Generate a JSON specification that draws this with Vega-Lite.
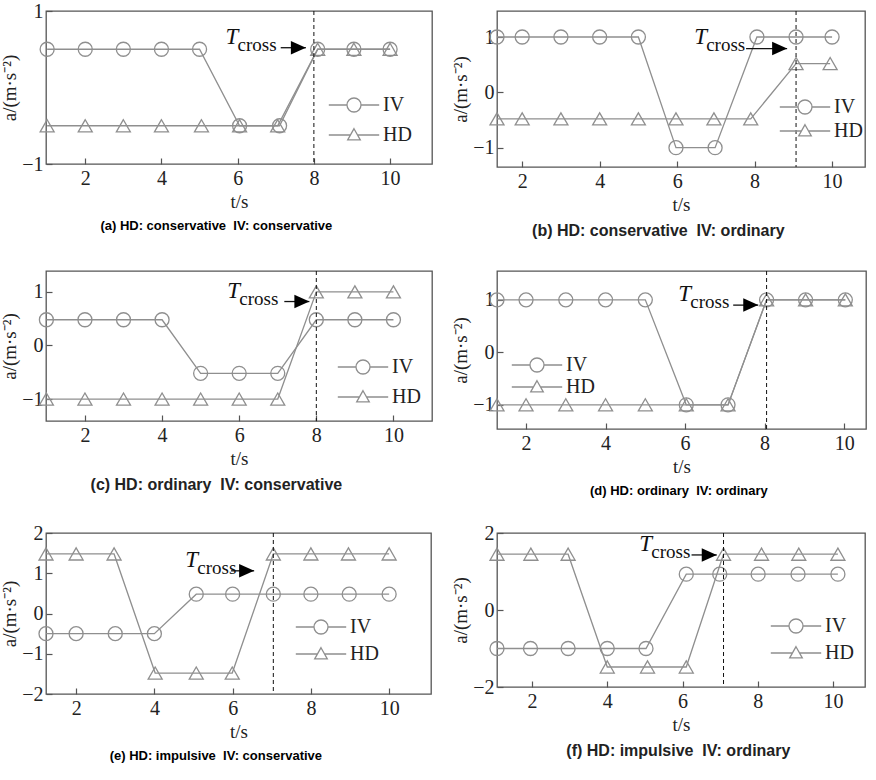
{
  "$schema": "https://vega.github.io/schema/vega-lite/v6.json",
  "padding": {"left": 0, "top": 0, "right": 0, "bottom": 0},
  "background": "white",
  "datasets": {
    "a": [
      {"t": 1, "a": 0.5, "series": "IV"}, {"t": 2, "a": 0.5, "series": "IV"}, {"t": 3, "a": 0.5, "series": "IV"}, {"t": 4, "a": 0.5, "series": "IV"}, {"t": 5, "a": 0.5, "series": "IV"},
      {"t": 6.05, "a": -0.5, "series": "IV"}, {"t": 7.1, "a": -0.5, "series": "IV"}, {"t": 8.1, "a": 0.5, "series": "IV"}, {"t": 9.05, "a": 0.5, "series": "IV"}, {"t": 10, "a": 0.5, "series": "IV"},
      {"t": 1, "a": -0.5, "series": "HD"}, {"t": 2, "a": -0.5, "series": "HD"}, {"t": 3, "a": -0.5, "series": "HD"}, {"t": 4, "a": -0.5, "series": "HD"}, {"t": 5.05, "a": -0.5, "series": "HD"},
      {"t": 6.05, "a": -0.5, "series": "HD"}, {"t": 7.05, "a": -0.5, "series": "HD"}, {"t": 8.1, "a": 0.5, "series": "HD"}, {"t": 9.05, "a": 0.5, "series": "HD"}, {"t": 10, "a": 0.5, "series": "HD"}
    ],
    "a_ann": [{"tc": 8, "tx": 5.68, "ax1": 7.13, "ax2": 7.79, "ay": 0.52}],
    "b": [
      {"t": 1.35, "a": 1, "series": "IV"}, {"t": 2, "a": 1, "series": "IV"}, {"t": 3, "a": 1, "series": "IV"}, {"t": 4, "a": 1, "series": "IV"}, {"t": 5, "a": 1, "series": "IV"},
      {"t": 5.97, "a": -1, "series": "IV"}, {"t": 6.98, "a": -1, "series": "IV"}, {"t": 8.06, "a": 1, "series": "IV"}, {"t": 9.07, "a": 1, "series": "IV"}, {"t": 10, "a": 1, "series": "IV"},
      {"t": 1.35, "a": -0.48, "series": "HD"}, {"t": 2, "a": -0.48, "series": "HD"}, {"t": 3, "a": -0.48, "series": "HD"}, {"t": 4, "a": -0.48, "series": "HD"}, {"t": 5, "a": -0.48, "series": "HD"},
      {"t": 5.97, "a": -0.48, "series": "HD"}, {"t": 6.95, "a": -0.48, "series": "HD"}, {"t": 7.9, "a": -0.48, "series": "HD"}, {"t": 9.07, "a": 0.52, "series": "HD"}, {"t": 9.95, "a": 0.52, "series": "HD"}
    ],
    "b_ann": [{"tc": 9.07, "tx": 6.44, "ax1": 7.78, "ax2": 8.84, "ay": 0.79}],
    "c": [
      {"t": 1, "a": 0.48, "series": "IV"}, {"t": 2, "a": 0.48, "series": "IV"}, {"t": 3, "a": 0.48, "series": "IV"}, {"t": 4, "a": 0.48, "series": "IV"}, {"t": 5, "a": -0.52, "series": "IV"},
      {"t": 6, "a": -0.52, "series": "IV"}, {"t": 7, "a": -0.52, "series": "IV"}, {"t": 8, "a": 0.48, "series": "IV"}, {"t": 9, "a": 0.48, "series": "IV"}, {"t": 10, "a": 0.48, "series": "IV"},
      {"t": 1, "a": -1, "series": "HD"}, {"t": 2, "a": -1, "series": "HD"}, {"t": 3, "a": -1, "series": "HD"}, {"t": 4, "a": -1, "series": "HD"}, {"t": 5, "a": -1, "series": "HD"},
      {"t": 6, "a": -1, "series": "HD"}, {"t": 7, "a": -1, "series": "HD"}, {"t": 8, "a": 1, "series": "HD"}, {"t": 9, "a": 1, "series": "HD"}, {"t": 10, "a": 1, "series": "HD"}
    ],
    "c_ann": [{"tc": 8, "tx": 5.69, "ax1": 7.17, "ax2": 7.82, "ay": 0.82}],
    "d": [
      {"t": 1.27, "a": 1, "series": "IV"}, {"t": 2, "a": 1, "series": "IV"}, {"t": 3, "a": 1, "series": "IV"}, {"t": 4, "a": 1, "series": "IV"}, {"t": 5, "a": 1, "series": "IV"},
      {"t": 6.03, "a": -1, "series": "IV"}, {"t": 7.08, "a": -1, "series": "IV"}, {"t": 8.05, "a": 1, "series": "IV"}, {"t": 9.03, "a": 1, "series": "IV"}, {"t": 10.03, "a": 1, "series": "IV"},
      {"t": 1.27, "a": -1, "series": "HD"}, {"t": 2, "a": -1, "series": "HD"}, {"t": 3, "a": -1, "series": "HD"}, {"t": 4, "a": -1, "series": "HD"}, {"t": 5, "a": -1, "series": "HD"},
      {"t": 6.03, "a": -1, "series": "HD"}, {"t": 7.08, "a": -1, "series": "HD"}, {"t": 8.05, "a": 1, "series": "HD"}, {"t": 9.03, "a": 1, "series": "HD"}, {"t": 10.03, "a": 1, "series": "HD"}
    ],
    "d_ann": [{"tc": 8.05, "tx": 5.83, "ax1": 7.21, "ax2": 7.84, "ay": 0.9}],
    "e": [
      {"t": 1.23, "a": -0.5, "series": "IV"}, {"t": 2, "a": -0.5, "series": "IV"}, {"t": 3, "a": -0.5, "series": "IV"}, {"t": 4, "a": -0.5, "series": "IV"}, {"t": 5.07, "a": 0.48, "series": "IV"},
      {"t": 6, "a": 0.48, "series": "IV"}, {"t": 7.04, "a": 0.48, "series": "IV"}, {"t": 8, "a": 0.48, "series": "IV"}, {"t": 8.98, "a": 0.48, "series": "IV"}, {"t": 10, "a": 0.48, "series": "IV"},
      {"t": 1.23, "a": 1.48, "series": "HD"}, {"t": 2, "a": 1.48, "series": "HD"}, {"t": 2.97, "a": 1.48, "series": "HD"}, {"t": 4.02, "a": -1.48, "series": "HD"}, {"t": 5.07, "a": -1.48, "series": "HD"},
      {"t": 5.99, "a": -1.48, "series": "HD"}, {"t": 7.04, "a": 1.48, "series": "HD"}, {"t": 8, "a": 1.48, "series": "HD"}, {"t": 8.96, "a": 1.48, "series": "HD"}, {"t": 10, "a": 1.48, "series": "HD"}
    ],
    "e_ann": [{"tc": 7.04, "tx": 4.79, "ax1": 5.96, "ax2": 6.55, "ay": 1.06}],
    "f": [
      {"t": 1.07, "a": -1, "series": "IV"}, {"t": 1.96, "a": -1, "series": "IV"}, {"t": 2.96, "a": -1, "series": "IV"}, {"t": 4, "a": -1, "series": "IV"}, {"t": 5.03, "a": -1, "series": "IV"},
      {"t": 6.1, "a": 0.93, "series": "IV"}, {"t": 6.99, "a": 0.93, "series": "IV"}, {"t": 8.01, "a": 0.93, "series": "IV"}, {"t": 9.07, "a": 0.93, "series": "IV"}, {"t": 10.13, "a": 0.93, "series": "IV"},
      {"t": 1.07, "a": 1.45, "series": "HD"}, {"t": 1.97, "a": 1.45, "series": "HD"}, {"t": 2.96, "a": 1.45, "series": "HD"}, {"t": 4, "a": -1.48, "series": "HD"}, {"t": 5.07, "a": -1.48, "series": "HD"},
      {"t": 6.1, "a": -1.48, "series": "HD"}, {"t": 7.09, "a": 1.45, "series": "HD"}, {"t": 8.1, "a": 1.45, "series": "HD"}, {"t": 9.09, "a": 1.45, "series": "HD"}, {"t": 10.13, "a": 1.45, "series": "HD"}
    ],
    "f_ann": [{"tc": 7.09, "tx": 4.85, "ax1": 6.24, "ax2": 6.91, "ay": 1.43}]
  },
  "columns": 2,
  "concat": [
    {
      "width": 386, "height": 153,
      "title": {"text": "(a) HD: conservative\u00a0 IV: conservative", "orient": "bottom", "anchor": "middle", "frame": "bounds", "offset": 9},
      "layer": [
        {"data": {"name": "a"}, "mark": {"type": "line", "color": "#8f8f8f", "strokeWidth": 1.3},
         "encoding": {
           "x": {"field": "t", "type": "quantitative", "scale": {"domain": [0.97, 11.1], "nice": false, "zero": false}, "axis": {"values": [2, 4, 6, 8, 10], "title": "t/s", "labelFont": "Liberation Serif", "labelFontSize": 20, "labelColor": "#222", "titleFont": "Liberation Serif", "titleFontSize": 19, "titleFontWeight": "normal", "titleColor": "#222", "titlePadding": 4, "labelPadding": 4}},
           "y": {"field": "a", "type": "quantitative", "scale": {"domain": [-1, 1], "nice": false, "zero": false}, "axis": {"values": [-1, 0, 1], "format": "d", "title": "a/(m·s⁻²)", "labelFont": "Liberation Serif", "labelFontSize": 20, "labelColor": "#222", "titleFont": "Liberation Serif", "titleFontSize": 19, "titleFontWeight": "normal", "titleColor": "#222", "titlePadding": 2, "labelPadding": 3}},
           "detail": {"field": "series"}}},
        {"data": {"name": "a"}, "transform": [{"filter": "datum.series === 'IV'"}], "mark": {"type": "point", "shape": "circle", "filled": false, "color": "#8f8f8f", "strokeWidth": 1.3, "size": 196, "opacity": 1},
         "encoding": {
           "x": {"field": "t", "type": "quantitative", "scale": {"domain": [0.97, 11.1], "nice": false, "zero": false}},
           "y": {"field": "a", "type": "quantitative", "scale": {"domain": [-1, 1], "nice": false, "zero": false}}}},
        {"data": {"name": "a"}, "transform": [{"filter": "datum.series === 'HD'"}], "mark": {"type": "point", "shape": "triangle-up", "filled": false, "color": "#8f8f8f", "strokeWidth": 1.3, "size": 196, "opacity": 1},
         "encoding": {
           "x": {"field": "t", "type": "quantitative", "scale": {"domain": [0.97, 11.1], "nice": false, "zero": false}},
           "y": {"field": "a", "type": "quantitative", "scale": {"domain": [-1, 1], "nice": false, "zero": false}}}},
        {"data": {"name": "a"}, "transform": [{"filter": "false"}], "mark": {"type": "point", "filled": false, "color": "#8f8f8f", "strokeWidth": 1.3, "size": 196, "opacity": 1},
         "encoding": {
           "shape": {"field": "series", "type": "nominal", "scale": {"domain": ["IV", "HD"], "range": ["M-3.6,0H-1M1,0H3.6M1,0A1,1,0,1,1,-1,0A1,1,0,1,1,1,0", "M-3.6,0H-0.5M0.5,0H3.6M0,-0.9L0.9,0.7L-0.9,0.7Z"]},
             "legend": {"title": null, "orient": "none", "legendX": 298, "legendY": 84, "rowPadding": 10}}}},
        {"data": {"name": "a_ann"}, "mark": {"type": "rule", "color": "#111", "strokeWidth": 1, "strokeDash": [4, 3]},
         "encoding": {"x": {"field": "tc", "type": "quantitative", "scale": {"domain": [0.97, 11.1], "nice": false, "zero": false}}}},
        {"data": {"name": "a_ann"}, "mark": {"type": "rule", "color": "#111", "strokeWidth": 1.3},
         "encoding": {
           "x": {"field": "ax1", "type": "quantitative", "scale": {"domain": [0.97, 11.1], "nice": false, "zero": false}},
           "x2": {"field": "ax2"},
           "y": {"field": "ay", "type": "quantitative", "scale": {"domain": [-1, 1], "nice": false, "zero": false}}}},
        {"data": {"name": "a_ann"}, "mark": {"type": "point", "filled": true, "color": "#000", "opacity": 1, "shape": "M0,0L-1,-0.45L-1,0.45Z", "size": 900},
         "encoding": {
           "x": {"field": "ax2", "type": "quantitative", "scale": {"domain": [0.97, 11.1], "nice": false, "zero": false}},
           "y": {"field": "ay", "type": "quantitative", "scale": {"domain": [-1, 1], "nice": false, "zero": false}}}},
        {"data": {"name": "a_ann"}, "mark": {"type": "text", "text": "T", "font": "Liberation Serif", "fontStyle": "italic", "fontSize": 23, "align": "left", "baseline": "alphabetic", "dy": -4, "color": "#111"},
         "encoding": {
           "x": {"field": "tx", "type": "quantitative", "scale": {"domain": [0.97, 11.1], "nice": false, "zero": false}},
           "y": {"field": "ay", "type": "quantitative", "scale": {"domain": [-1, 1], "nice": false, "zero": false}}}},
        {"data": {"name": "a_ann"}, "mark": {"type": "text", "text": "cross", "font": "Liberation Serif", "fontSize": 19, "align": "left", "baseline": "alphabetic", "dx": 12, "dy": 3, "color": "#111"},
         "encoding": {
           "x": {"field": "tx", "type": "quantitative", "scale": {"domain": [0.97, 11.1], "nice": false, "zero": false}},
           "y": {"field": "ay", "type": "quantitative", "scale": {"domain": [-1, 1], "nice": false, "zero": false}}}}
      ]
    },
    {
      "width": 368, "height": 156,
      "title": {"text": "(b) HD: conservative\u00a0 IV: ordinary", "style": "caption", "orient": "bottom", "anchor": "middle", "frame": "bounds", "offset": 9},
      "layer": [
        {"data": {"name": "b"}, "mark": {"type": "line", "color": "#8f8f8f", "strokeWidth": 1.3},
         "encoding": {
           "x": {"field": "t", "type": "quantitative", "scale": {"domain": [1.35, 10.85], "nice": false, "zero": false}, "axis": {"values": [2, 4, 6, 8, 10], "title": "t/s", "labelFont": "Liberation Serif", "labelFontSize": 20, "labelColor": "#222", "titleFont": "Liberation Serif", "titleFontSize": 19, "titleFontWeight": "normal", "titleColor": "#222", "titlePadding": 4, "labelPadding": 4}},
           "y": {"field": "a", "type": "quantitative", "scale": {"domain": [-1.35, 1.47], "nice": false, "zero": false}, "axis": {"values": [-1, 0, 1], "format": "d", "title": "a/(m·s⁻²)", "labelFont": "Liberation Serif", "labelFontSize": 20, "labelColor": "#222", "titleFont": "Liberation Serif", "titleFontSize": 19, "titleFontWeight": "normal", "titleColor": "#222", "titlePadding": 2, "labelPadding": 3}},
           "detail": {"field": "series"}}},
        {"data": {"name": "b"}, "transform": [{"filter": "datum.series === 'IV'"}], "mark": {"type": "point", "shape": "circle", "filled": false, "color": "#8f8f8f", "strokeWidth": 1.3, "size": 196, "opacity": 1},
         "encoding": {
           "x": {"field": "t", "type": "quantitative", "scale": {"domain": [1.35, 10.85], "nice": false, "zero": false}},
           "y": {"field": "a", "type": "quantitative", "scale": {"domain": [-1.35, 1.47], "nice": false, "zero": false}}}},
        {"data": {"name": "b"}, "transform": [{"filter": "datum.series === 'HD'"}], "mark": {"type": "point", "shape": "triangle-up", "filled": false, "color": "#8f8f8f", "strokeWidth": 1.3, "size": 196, "opacity": 1},
         "encoding": {
           "x": {"field": "t", "type": "quantitative", "scale": {"domain": [1.35, 10.85], "nice": false, "zero": false}},
           "y": {"field": "a", "type": "quantitative", "scale": {"domain": [-1.35, 1.47], "nice": false, "zero": false}}}},
        {"data": {"name": "b"}, "transform": [{"filter": "false"}], "mark": {"type": "point", "filled": false, "color": "#8f8f8f", "strokeWidth": 1.3, "size": 196, "opacity": 1},
         "encoding": {
           "shape": {"field": "series", "type": "nominal", "scale": {"domain": ["IV", "HD"], "range": ["M-3.6,0H-1M1,0H3.6M1,0A1,1,0,1,1,-1,0A1,1,0,1,1,1,0", "M-3.6,0H-0.5M0.5,0H3.6M0,-0.9L0.9,0.7L-0.9,0.7Z"]},
             "legend": {"title": null, "orient": "none", "legendX": 298, "legendY": 86, "rowPadding": 4}}}},
        {"data": {"name": "b_ann"}, "mark": {"type": "rule", "color": "#111", "strokeWidth": 1, "strokeDash": [4, 3]},
         "encoding": {"x": {"field": "tc", "type": "quantitative", "scale": {"domain": [1.35, 10.85], "nice": false, "zero": false}}}},
        {"data": {"name": "b_ann"}, "mark": {"type": "rule", "color": "#111", "strokeWidth": 1.3},
         "encoding": {
           "x": {"field": "ax1", "type": "quantitative", "scale": {"domain": [1.35, 10.85], "nice": false, "zero": false}},
           "x2": {"field": "ax2"},
           "y": {"field": "ay", "type": "quantitative", "scale": {"domain": [-1.35, 1.47], "nice": false, "zero": false}}}},
        {"data": {"name": "b_ann"}, "mark": {"type": "point", "filled": true, "color": "#000", "opacity": 1, "shape": "M0,0L-1,-0.45L-1,0.45Z", "size": 900},
         "encoding": {
           "x": {"field": "ax2", "type": "quantitative", "scale": {"domain": [1.35, 10.85], "nice": false, "zero": false}},
           "y": {"field": "ay", "type": "quantitative", "scale": {"domain": [-1.35, 1.47], "nice": false, "zero": false}}}},
        {"data": {"name": "b_ann"}, "mark": {"type": "text", "text": "T", "font": "Liberation Serif", "fontStyle": "italic", "fontSize": 23, "align": "left", "baseline": "alphabetic", "dy": -5, "color": "#111"},
         "encoding": {
           "x": {"field": "tx", "type": "quantitative", "scale": {"domain": [1.35, 10.85], "nice": false, "zero": false}},
           "y": {"field": "ay", "type": "quantitative", "scale": {"domain": [-1.35, 1.47], "nice": false, "zero": false}}}},
        {"data": {"name": "b_ann"}, "mark": {"type": "text", "text": "cross", "font": "Liberation Serif", "fontSize": 19, "align": "left", "baseline": "alphabetic", "dx": 12, "dy": 2, "color": "#111"},
         "encoding": {
           "x": {"field": "tx", "type": "quantitative", "scale": {"domain": [1.35, 10.85], "nice": false, "zero": false}},
           "y": {"field": "ay", "type": "quantitative", "scale": {"domain": [-1.35, 1.47], "nice": false, "zero": false}}}}
      ]
    },
    {
      "width": 386, "height": 150,
      "title": {"text": "(c) HD: ordinary\u00a0 IV: conservative", "style": "caption", "orient": "bottom", "anchor": "middle", "frame": "bounds", "offset": 9},
      "layer": [
        {"data": {"name": "c"}, "mark": {"type": "line", "color": "#8f8f8f", "strokeWidth": 1.3},
         "encoding": {
           "x": {"field": "t", "type": "quantitative", "scale": {"domain": [0.99, 11.0], "nice": false, "zero": false}, "axis": {"values": [2, 4, 6, 8, 10], "title": "t/s", "labelFont": "Liberation Serif", "labelFontSize": 20, "labelColor": "#222", "titleFont": "Liberation Serif", "titleFontSize": 19, "titleFontWeight": "normal", "titleColor": "#222", "titlePadding": 4, "labelPadding": 4}},
           "y": {"field": "a", "type": "quantitative", "scale": {"domain": [-1.41, 1.39], "nice": false, "zero": false}, "axis": {"values": [-1, 0, 1], "format": "d", "title": "a/(m·s⁻²)", "labelFont": "Liberation Serif", "labelFontSize": 20, "labelColor": "#222", "titleFont": "Liberation Serif", "titleFontSize": 19, "titleFontWeight": "normal", "titleColor": "#222", "titlePadding": 2, "labelPadding": 3}},
           "detail": {"field": "series"}}},
        {"data": {"name": "c"}, "transform": [{"filter": "datum.series === 'IV'"}], "mark": {"type": "point", "shape": "circle", "filled": false, "color": "#8f8f8f", "strokeWidth": 1.3, "size": 196, "opacity": 1},
         "encoding": {
           "x": {"field": "t", "type": "quantitative", "scale": {"domain": [0.99, 11.0], "nice": false, "zero": false}, "axis": {"values": [2, 4, 6, 8, 10], "title": "t/s", "labelFont": "Liberation Serif", "labelFontSize": 20, "labelColor": "#222", "titleFont": "Liberation Serif", "titleFontSize": 19, "titleFontWeight": "normal", "titleColor": "#222", "titlePadding": 4, "labelPadding": 4}},
           "y": {"field": "a", "type": "quantitative", "scale": {"domain": [-1.41, 1.39], "nice": false, "zero": false}, "axis": {"values": [-1, 0, 1], "format": "d", "title": "a/(m·s⁻²)", "labelFont": "Liberation Serif", "labelFontSize": 20, "labelColor": "#222", "titleFont": "Liberation Serif", "titleFontSize": 19, "titleFontWeight": "normal", "titleColor": "#222", "titlePadding": 2, "labelPadding": 3}}}},
        {"data": {"name": "c"}, "transform": [{"filter": "datum.series === 'HD'"}], "mark": {"type": "point", "shape": "triangle-up", "filled": false, "color": "#8f8f8f", "strokeWidth": 1.3, "size": 196, "opacity": 1},
         "encoding": {
           "x": {"field": "t", "type": "quantitative", "scale": {"domain": [0.99, 11.0], "nice": false, "zero": false}, "axis": {"values": [2, 4, 6, 8, 10], "title": "t/s", "labelFont": "Liberation Serif", "labelFontSize": 20, "labelColor": "#222", "titleFont": "Liberation Serif", "titleFontSize": 19, "titleFontWeight": "normal", "titleColor": "#222", "titlePadding": 4, "labelPadding": 4}},
           "y": {"field": "a", "type": "quantitative", "scale": {"domain": [-1.41, 1.39], "nice": false, "zero": false}, "axis": {"values": [-1, 0, 1], "format": "d", "title": "a/(m·s⁻²)", "labelFont": "Liberation Serif", "labelFontSize": 20, "labelColor": "#222", "titleFont": "Liberation Serif", "titleFontSize": 19, "titleFontWeight": "normal", "titleColor": "#222", "titlePadding": 2, "labelPadding": 3}}}},
        {"data": {"name": "c"}, "transform": [{"filter": "false"}], "mark": {"type": "point", "filled": false, "color": "#8f8f8f", "strokeWidth": 1.3, "size": 196, "opacity": 1},
         "encoding": {
           "shape": {"field": "series", "type": "nominal", "scale": {"domain": ["IV", "HD"], "range": ["M-3.6,0H-1M1,0H3.6M1,0A1,1,0,1,1,-1,0A1,1,0,1,1,1,0", "M-3.6,0H-0.5M0.5,0H3.6M0,-0.9L0.9,0.7L-0.9,0.7Z"]},
             "legend": {"title": null, "orient": "none", "legendX": 307, "legendY": 86, "rowPadding": 10}}}},
        {"data": {"name": "c_ann"}, "mark": {"type": "rule", "color": "#111", "strokeWidth": 1, "strokeDash": [4, 3]},
         "encoding": {"x": {"field": "tc", "type": "quantitative", "scale": {"domain": [0.99, 11.0], "nice": false, "zero": false}, "axis": {"values": [2, 4, 6, 8, 10], "title": "t/s", "labelFont": "Liberation Serif", "labelFontSize": 20, "labelColor": "#222", "titleFont": "Liberation Serif", "titleFontSize": 19, "titleFontWeight": "normal", "titleColor": "#222", "titlePadding": 4, "labelPadding": 4}}}},
        {"data": {"name": "c_ann"}, "mark": {"type": "rule", "color": "#111", "strokeWidth": 1.3},
         "encoding": {
           "x": {"field": "ax1", "type": "quantitative", "scale": {"domain": [0.99, 11.0], "nice": false, "zero": false}, "axis": {"values": [2, 4, 6, 8, 10], "title": "t/s", "labelFont": "Liberation Serif", "labelFontSize": 20, "labelColor": "#222", "titleFont": "Liberation Serif", "titleFontSize": 19, "titleFontWeight": "normal", "titleColor": "#222", "titlePadding": 4, "labelPadding": 4}},
           "x2": {"field": "ax2"},
           "y": {"field": "ay", "type": "quantitative", "scale": {"domain": [-1.41, 1.39], "nice": false, "zero": false}, "axis": {"values": [-1, 0, 1], "format": "d", "title": "a/(m·s⁻²)", "labelFont": "Liberation Serif", "labelFontSize": 20, "labelColor": "#222", "titleFont": "Liberation Serif", "titleFontSize": 19, "titleFontWeight": "normal", "titleColor": "#222", "titlePadding": 2, "labelPadding": 3}}}},
        {"data": {"name": "c_ann"}, "mark": {"type": "point", "filled": true, "color": "#000", "opacity": 1, "shape": "M0,0L-1,-0.45L-1,0.45Z", "size": 900},
         "encoding": {
           "x": {"field": "ax2", "type": "quantitative", "scale": {"domain": [0.99, 11.0], "nice": false, "zero": false}, "axis": {"values": [2, 4, 6, 8, 10], "title": "t/s", "labelFont": "Liberation Serif", "labelFontSize": 20, "labelColor": "#222", "titleFont": "Liberation Serif", "titleFontSize": 19, "titleFontWeight": "normal", "titleColor": "#222", "titlePadding": 4, "labelPadding": 4}},
           "y": {"field": "ay", "type": "quantitative", "scale": {"domain": [-1.41, 1.39], "nice": false, "zero": false}, "axis": {"values": [-1, 0, 1], "format": "d", "title": "a/(m·s⁻²)", "labelFont": "Liberation Serif", "labelFontSize": 20, "labelColor": "#222", "titleFont": "Liberation Serif", "titleFontSize": 19, "titleFontWeight": "normal", "titleColor": "#222", "titlePadding": 2, "labelPadding": 3}}}},
        {"data": {"name": "c_ann"}, "mark": {"type": "text", "text": "T", "font": "Liberation Serif", "fontStyle": "italic", "fontSize": 23, "align": "left", "baseline": "alphabetic", "dy": -4, "color": "#111"},
         "encoding": {
           "x": {"field": "tx", "type": "quantitative", "scale": {"domain": [0.99, 11.0], "nice": false, "zero": false}, "axis": {"values": [2, 4, 6, 8, 10], "title": "t/s", "labelFont": "Liberation Serif", "labelFontSize": 20, "labelColor": "#222", "titleFont": "Liberation Serif", "titleFontSize": 19, "titleFontWeight": "normal", "titleColor": "#222", "titlePadding": 4, "labelPadding": 4}},
           "y": {"field": "ay", "type": "quantitative", "scale": {"domain": [-1.41, 1.39], "nice": false, "zero": false}, "axis": {"values": [-1, 0, 1], "format": "d", "title": "a/(m·s⁻²)", "labelFont": "Liberation Serif", "labelFontSize": 20, "labelColor": "#222", "titleFont": "Liberation Serif", "titleFontSize": 19, "titleFontWeight": "normal", "titleColor": "#222", "titlePadding": 2, "labelPadding": 3}}}},
        {"data": {"name": "c_ann"}, "mark": {"type": "text", "text": "cross", "font": "Liberation Serif", "fontSize": 19, "align": "left", "baseline": "alphabetic", "dx": 12, "dy": 3, "color": "#111"},
         "encoding": {
           "x": {"field": "tx", "type": "quantitative", "scale": {"domain": [0.99, 11.0], "nice": false, "zero": false}, "axis": {"values": [2, 4, 6, 8, 10], "title": "t/s", "labelFont": "Liberation Serif", "labelFontSize": 20, "labelColor": "#222", "titleFont": "Liberation Serif", "titleFontSize": 19, "titleFontWeight": "normal", "titleColor": "#222", "titlePadding": 4, "labelPadding": 4}},
           "y": {"field": "ay", "type": "quantitative", "scale": {"domain": [-1.41, 1.39], "nice": false, "zero": false}, "axis": {"values": [-1, 0, 1], "format": "d", "title": "a/(m·s⁻²)", "labelFont": "Liberation Serif", "labelFontSize": 20, "labelColor": "#222", "titleFont": "Liberation Serif", "titleFontSize": 19, "titleFontWeight": "normal", "titleColor": "#222", "titlePadding": 2, "labelPadding": 3}}}}
      ]
    },
    {
      "width": 369, "height": 158,
      "title": {"text": "(d) HD: ordinary\u00a0 IV: ordinary", "dx": 20, "orient": "bottom", "anchor": "middle", "frame": "bounds", "offset": 9},
      "layer": [
        {"data": {"name": "d"}, "mark": {"type": "line", "color": "#8f8f8f", "strokeWidth": 1.3},
         "encoding": {
           "x": {"field": "t", "type": "quantitative", "scale": {"domain": [1.27, 10.55], "nice": false, "zero": false}, "axis": {"values": [2, 4, 6, 8, 10], "title": "t/s", "labelFont": "Liberation Serif", "labelFontSize": 20, "labelColor": "#222", "titleFont": "Liberation Serif", "titleFontSize": 19, "titleFontWeight": "normal", "titleColor": "#222", "titlePadding": 4, "labelPadding": 4}},
           "y": {"field": "a", "type": "quantitative", "scale": {"domain": [-1.46, 1.55], "nice": false, "zero": false}, "axis": {"values": [-1, 0, 1], "format": "d", "title": "a/(m·s⁻²)", "labelFont": "Liberation Serif", "labelFontSize": 20, "labelColor": "#222", "titleFont": "Liberation Serif", "titleFontSize": 19, "titleFontWeight": "normal", "titleColor": "#222", "titlePadding": 2, "labelPadding": 3}},
           "detail": {"field": "series"}}},
        {"data": {"name": "d"}, "transform": [{"filter": "datum.series === 'IV'"}], "mark": {"type": "point", "shape": "circle", "filled": false, "color": "#8f8f8f", "strokeWidth": 1.3, "size": 196, "opacity": 1},
         "encoding": {
           "x": {"field": "t", "type": "quantitative", "scale": {"domain": [1.27, 10.55], "nice": false, "zero": false}, "axis": {"values": [2, 4, 6, 8, 10], "title": "t/s", "labelFont": "Liberation Serif", "labelFontSize": 20, "labelColor": "#222", "titleFont": "Liberation Serif", "titleFontSize": 19, "titleFontWeight": "normal", "titleColor": "#222", "titlePadding": 4, "labelPadding": 4}},
           "y": {"field": "a", "type": "quantitative", "scale": {"domain": [-1.46, 1.55], "nice": false, "zero": false}, "axis": {"values": [-1, 0, 1], "format": "d", "title": "a/(m·s⁻²)", "labelFont": "Liberation Serif", "labelFontSize": 20, "labelColor": "#222", "titleFont": "Liberation Serif", "titleFontSize": 19, "titleFontWeight": "normal", "titleColor": "#222", "titlePadding": 2, "labelPadding": 3}}}},
        {"data": {"name": "d"}, "transform": [{"filter": "datum.series === 'HD'"}], "mark": {"type": "point", "shape": "triangle-up", "filled": false, "color": "#8f8f8f", "strokeWidth": 1.3, "size": 196, "opacity": 1},
         "encoding": {
           "x": {"field": "t", "type": "quantitative", "scale": {"domain": [1.27, 10.55], "nice": false, "zero": false}, "axis": {"values": [2, 4, 6, 8, 10], "title": "t/s", "labelFont": "Liberation Serif", "labelFontSize": 20, "labelColor": "#222", "titleFont": "Liberation Serif", "titleFontSize": 19, "titleFontWeight": "normal", "titleColor": "#222", "titlePadding": 4, "labelPadding": 4}},
           "y": {"field": "a", "type": "quantitative", "scale": {"domain": [-1.46, 1.55], "nice": false, "zero": false}, "axis": {"values": [-1, 0, 1], "format": "d", "title": "a/(m·s⁻²)", "labelFont": "Liberation Serif", "labelFontSize": 20, "labelColor": "#222", "titleFont": "Liberation Serif", "titleFontSize": 19, "titleFontWeight": "normal", "titleColor": "#222", "titlePadding": 2, "labelPadding": 3}}}},
        {"data": {"name": "d"}, "transform": [{"filter": "false"}], "mark": {"type": "point", "filled": false, "color": "#8f8f8f", "strokeWidth": 1.3, "size": 196, "opacity": 1},
         "encoding": {
           "shape": {"field": "series", "type": "nominal", "scale": {"domain": ["IV", "HD"], "range": ["M-3.6,0H-1M1,0H3.6M1,0A1,1,0,1,1,-1,0A1,1,0,1,1,1,0", "M-3.6,0H-0.5M0.5,0H3.6M0,-0.9L0.9,0.7L-0.9,0.7Z"]},
             "legend": {"title": null, "orient": "none", "legendX": 30, "legendY": 84, "rowPadding": 2}}}},
        {"data": {"name": "d_ann"}, "mark": {"type": "rule", "color": "#111", "strokeWidth": 1, "strokeDash": [4, 3]},
         "encoding": {"x": {"field": "tc", "type": "quantitative", "scale": {"domain": [1.27, 10.55], "nice": false, "zero": false}, "axis": {"values": [2, 4, 6, 8, 10], "title": "t/s", "labelFont": "Liberation Serif", "labelFontSize": 20, "labelColor": "#222", "titleFont": "Liberation Serif", "titleFontSize": 19, "titleFontWeight": "normal", "titleColor": "#222", "titlePadding": 4, "labelPadding": 4}}}},
        {"data": {"name": "d_ann"}, "mark": {"type": "rule", "color": "#111", "strokeWidth": 1.3},
         "encoding": {
           "x": {"field": "ax1", "type": "quantitative", "scale": {"domain": [1.27, 10.55], "nice": false, "zero": false}, "axis": {"values": [2, 4, 6, 8, 10], "title": "t/s", "labelFont": "Liberation Serif", "labelFontSize": 20, "labelColor": "#222", "titleFont": "Liberation Serif", "titleFontSize": 19, "titleFontWeight": "normal", "titleColor": "#222", "titlePadding": 4, "labelPadding": 4}},
           "x2": {"field": "ax2"},
           "y": {"field": "ay", "type": "quantitative", "scale": {"domain": [-1.46, 1.55], "nice": false, "zero": false}, "axis": {"values": [-1, 0, 1], "format": "d", "title": "a/(m·s⁻²)", "labelFont": "Liberation Serif", "labelFontSize": 20, "labelColor": "#222", "titleFont": "Liberation Serif", "titleFontSize": 19, "titleFontWeight": "normal", "titleColor": "#222", "titlePadding": 2, "labelPadding": 3}}}},
        {"data": {"name": "d_ann"}, "mark": {"type": "point", "filled": true, "color": "#000", "opacity": 1, "shape": "M0,0L-1,-0.45L-1,0.45Z", "size": 900},
         "encoding": {
           "x": {"field": "ax2", "type": "quantitative", "scale": {"domain": [1.27, 10.55], "nice": false, "zero": false}, "axis": {"values": [2, 4, 6, 8, 10], "title": "t/s", "labelFont": "Liberation Serif", "labelFontSize": 20, "labelColor": "#222", "titleFont": "Liberation Serif", "titleFontSize": 19, "titleFontWeight": "normal", "titleColor": "#222", "titlePadding": 4, "labelPadding": 4}},
           "y": {"field": "ay", "type": "quantitative", "scale": {"domain": [-1.46, 1.55], "nice": false, "zero": false}, "axis": {"values": [-1, 0, 1], "format": "d", "title": "a/(m·s⁻²)", "labelFont": "Liberation Serif", "labelFontSize": 20, "labelColor": "#222", "titleFont": "Liberation Serif", "titleFontSize": 19, "titleFontWeight": "normal", "titleColor": "#222", "titlePadding": 2, "labelPadding": 3}}}},
        {"data": {"name": "d_ann"}, "mark": {"type": "text", "text": "T", "font": "Liberation Serif", "fontStyle": "italic", "fontSize": 23, "align": "left", "baseline": "alphabetic", "dy": -4, "color": "#111"},
         "encoding": {
           "x": {"field": "tx", "type": "quantitative", "scale": {"domain": [1.27, 10.55], "nice": false, "zero": false}, "axis": {"values": [2, 4, 6, 8, 10], "title": "t/s", "labelFont": "Liberation Serif", "labelFontSize": 20, "labelColor": "#222", "titleFont": "Liberation Serif", "titleFontSize": 19, "titleFontWeight": "normal", "titleColor": "#222", "titlePadding": 4, "labelPadding": 4}},
           "y": {"field": "ay", "type": "quantitative", "scale": {"domain": [-1.46, 1.55], "nice": false, "zero": false}, "axis": {"values": [-1, 0, 1], "format": "d", "title": "a/(m·s⁻²)", "labelFont": "Liberation Serif", "labelFontSize": 20, "labelColor": "#222", "titleFont": "Liberation Serif", "titleFontSize": 19, "titleFontWeight": "normal", "titleColor": "#222", "titlePadding": 2, "labelPadding": 3}}}},
        {"data": {"name": "d_ann"}, "mark": {"type": "text", "text": "cross", "font": "Liberation Serif", "fontSize": 19, "align": "left", "baseline": "alphabetic", "dx": 12, "dy": 3, "color": "#111"},
         "encoding": {
           "x": {"field": "tx", "type": "quantitative", "scale": {"domain": [1.27, 10.55], "nice": false, "zero": false}, "axis": {"values": [2, 4, 6, 8, 10], "title": "t/s", "labelFont": "Liberation Serif", "labelFontSize": 20, "labelColor": "#222", "titleFont": "Liberation Serif", "titleFontSize": 19, "titleFontWeight": "normal", "titleColor": "#222", "titlePadding": 4, "labelPadding": 4}},
           "y": {"field": "ay", "type": "quantitative", "scale": {"domain": [-1.46, 1.55], "nice": false, "zero": false}, "axis": {"values": [-1, 0, 1], "format": "d", "title": "a/(m·s⁻²)", "labelFont": "Liberation Serif", "labelFontSize": 20, "labelColor": "#222", "titleFont": "Liberation Serif", "titleFontSize": 19, "titleFontWeight": "normal", "titleColor": "#222", "titlePadding": 2, "labelPadding": 3}}}}
      ]
    },
    {
      "width": 385, "height": 161,
      "title": {"text": "(e) HD: impulsive\u00a0 IV: conservative", "orient": "bottom", "anchor": "middle", "frame": "bounds", "offset": 9},
      "layer": [
        {"data": {"name": "e"}, "mark": {"type": "line", "color": "#8f8f8f", "strokeWidth": 1.3},
         "encoding": {
           "x": {"field": "t", "type": "quantitative", "scale": {"domain": [1.23, 11.07], "nice": false, "zero": false}, "axis": {"values": [2, 4, 6, 8, 10], "title": "t/s", "labelFont": "Liberation Serif", "labelFontSize": 20, "labelColor": "#222", "titleFont": "Liberation Serif", "titleFontSize": 19, "titleFontWeight": "normal", "titleColor": "#222", "titlePadding": 4, "labelPadding": 4}},
           "y": {"field": "a", "type": "quantitative", "scale": {"domain": [-2, 2], "nice": false, "zero": false}, "axis": {"values": [-2, -1, 0, 1, 2], "format": "d", "title": "a/(m·s⁻²)", "labelFont": "Liberation Serif", "labelFontSize": 20, "labelColor": "#222", "titleFont": "Liberation Serif", "titleFontSize": 19, "titleFontWeight": "normal", "titleColor": "#222", "titlePadding": 2, "labelPadding": 3}},
           "detail": {"field": "series"}}},
        {"data": {"name": "e"}, "transform": [{"filter": "datum.series === 'IV'"}], "mark": {"type": "point", "shape": "circle", "filled": false, "color": "#8f8f8f", "strokeWidth": 1.3, "size": 196, "opacity": 1},
         "encoding": {
           "x": {"field": "t", "type": "quantitative", "scale": {"domain": [1.23, 11.07], "nice": false, "zero": false}},
           "y": {"field": "a", "type": "quantitative", "scale": {"domain": [-2, 2], "nice": false, "zero": false}}}},
        {"data": {"name": "e"}, "transform": [{"filter": "datum.series === 'HD'"}], "mark": {"type": "point", "shape": "triangle-up", "filled": false, "color": "#8f8f8f", "strokeWidth": 1.3, "size": 196, "opacity": 1},
         "encoding": {
           "x": {"field": "t", "type": "quantitative", "scale": {"domain": [1.23, 11.07], "nice": false, "zero": false}},
           "y": {"field": "a", "type": "quantitative", "scale": {"domain": [-2, 2], "nice": false, "zero": false}}}},
        {"data": {"name": "e"}, "transform": [{"filter": "false"}], "mark": {"type": "point", "filled": false, "color": "#8f8f8f", "strokeWidth": 1.3, "size": 196, "opacity": 1},
         "encoding": {
           "shape": {"field": "series", "type": "nominal", "scale": {"domain": ["IV", "HD"], "range": ["M-3.6,0H-1M1,0H3.6M1,0A1,1,0,1,1,-1,0A1,1,0,1,1,1,0", "M-3.6,0H-0.5M0.5,0H3.6M0,-0.9L0.9,0.7L-0.9,0.7Z"]},
             "legend": {"title": null, "orient": "none", "legendX": 265, "legendY": 84, "rowPadding": 7}}}},
        {"data": {"name": "e_ann"}, "mark": {"type": "rule", "color": "#111", "strokeWidth": 1, "strokeDash": [4, 3]},
         "encoding": {"x": {"field": "tc", "type": "quantitative", "scale": {"domain": [1.23, 11.07], "nice": false, "zero": false}}}},
        {"data": {"name": "e_ann"}, "mark": {"type": "rule", "color": "#111", "strokeWidth": 1.3},
         "encoding": {
           "x": {"field": "ax1", "type": "quantitative", "scale": {"domain": [1.23, 11.07], "nice": false, "zero": false}},
           "x2": {"field": "ax2"},
           "y": {"field": "ay", "type": "quantitative", "scale": {"domain": [-2, 2], "nice": false, "zero": false}}}},
        {"data": {"name": "e_ann"}, "mark": {"type": "point", "filled": true, "color": "#000", "opacity": 1, "shape": "M0,0L-1,-0.45L-1,0.45Z", "size": 900},
         "encoding": {
           "x": {"field": "ax2", "type": "quantitative", "scale": {"domain": [1.23, 11.07], "nice": false, "zero": false}},
           "y": {"field": "ay", "type": "quantitative", "scale": {"domain": [-2, 2], "nice": false, "zero": false}}}},
        {"data": {"name": "e_ann"}, "mark": {"type": "text", "text": "T", "font": "Liberation Serif", "fontStyle": "italic", "fontSize": 23, "align": "left", "baseline": "alphabetic", "dy": -4, "color": "#111"},
         "encoding": {
           "x": {"field": "tx", "type": "quantitative", "scale": {"domain": [1.23, 11.07], "nice": false, "zero": false}},
           "y": {"field": "ay", "type": "quantitative", "scale": {"domain": [-2, 2], "nice": false, "zero": false}}}},
        {"data": {"name": "e_ann"}, "mark": {"type": "text", "text": "cross", "font": "Liberation Serif", "fontSize": 19, "align": "left", "baseline": "alphabetic", "dx": 12, "dy": 3, "color": "#111"},
         "encoding": {
           "x": {"field": "tx", "type": "quantitative", "scale": {"domain": [1.23, 11.07], "nice": false, "zero": false}},
           "y": {"field": "ay", "type": "quantitative", "scale": {"domain": [-2, 2], "nice": false, "zero": false}}}}
      ]
    },
    {
      "width": 368, "height": 154,
      "title": {"text": "(f) HD: impulsive\u00a0 IV: ordinary", "dx": 20, "style": "caption", "orient": "bottom", "anchor": "middle", "frame": "bounds", "offset": 9},
      "layer": [
        {"data": {"name": "f"}, "mark": {"type": "line", "color": "#8f8f8f", "strokeWidth": 1.3},
         "encoding": {
           "x": {"field": "t", "type": "quantitative", "scale": {"domain": [1.07, 10.85], "nice": false, "zero": false}, "axis": {"values": [2, 4, 6, 8, 10], "title": "t/s", "labelFont": "Liberation Serif", "labelFontSize": 20, "labelColor": "#222", "titleFont": "Liberation Serif", "titleFontSize": 19, "titleFontWeight": "normal", "titleColor": "#222", "titlePadding": 4, "labelPadding": 4}},
           "y": {"field": "a", "type": "quantitative", "scale": {"domain": [-2, 2], "nice": false, "zero": false}, "axis": {"values": [-2, 0, 2], "format": "d", "title": "a/(m·s⁻²)", "labelFont": "Liberation Serif", "labelFontSize": 20, "labelColor": "#222", "titleFont": "Liberation Serif", "titleFontSize": 19, "titleFontWeight": "normal", "titleColor": "#222", "titlePadding": 2, "labelPadding": 3}},
           "detail": {"field": "series"}}},
        {"data": {"name": "f"}, "transform": [{"filter": "datum.series === 'IV'"}], "mark": {"type": "point", "shape": "circle", "filled": false, "color": "#8f8f8f", "strokeWidth": 1.3, "size": 196, "opacity": 1},
         "encoding": {
           "x": {"field": "t", "type": "quantitative", "scale": {"domain": [1.07, 10.85], "nice": false, "zero": false}, "axis": {"values": [2, 4, 6, 8, 10], "title": "t/s", "labelFont": "Liberation Serif", "labelFontSize": 20, "labelColor": "#222", "titleFont": "Liberation Serif", "titleFontSize": 19, "titleFontWeight": "normal", "titleColor": "#222", "titlePadding": 4, "labelPadding": 4}},
           "y": {"field": "a", "type": "quantitative", "scale": {"domain": [-2, 2], "nice": false, "zero": false}, "axis": {"values": [-2, 0, 2], "format": "d", "title": "a/(m·s⁻²)", "labelFont": "Liberation Serif", "labelFontSize": 20, "labelColor": "#222", "titleFont": "Liberation Serif", "titleFontSize": 19, "titleFontWeight": "normal", "titleColor": "#222", "titlePadding": 2, "labelPadding": 3}}}},
        {"data": {"name": "f"}, "transform": [{"filter": "datum.series === 'HD'"}], "mark": {"type": "point", "shape": "triangle-up", "filled": false, "color": "#8f8f8f", "strokeWidth": 1.3, "size": 196, "opacity": 1},
         "encoding": {
           "x": {"field": "t", "type": "quantitative", "scale": {"domain": [1.07, 10.85], "nice": false, "zero": false}, "axis": {"values": [2, 4, 6, 8, 10], "title": "t/s", "labelFont": "Liberation Serif", "labelFontSize": 20, "labelColor": "#222", "titleFont": "Liberation Serif", "titleFontSize": 19, "titleFontWeight": "normal", "titleColor": "#222", "titlePadding": 4, "labelPadding": 4}},
           "y": {"field": "a", "type": "quantitative", "scale": {"domain": [-2, 2], "nice": false, "zero": false}, "axis": {"values": [-2, 0, 2], "format": "d", "title": "a/(m·s⁻²)", "labelFont": "Liberation Serif", "labelFontSize": 20, "labelColor": "#222", "titleFont": "Liberation Serif", "titleFontSize": 19, "titleFontWeight": "normal", "titleColor": "#222", "titlePadding": 2, "labelPadding": 3}}}},
        {"data": {"name": "f"}, "transform": [{"filter": "false"}], "mark": {"type": "point", "filled": false, "color": "#8f8f8f", "strokeWidth": 1.3, "size": 196, "opacity": 1},
         "encoding": {
           "shape": {"field": "series", "type": "nominal", "scale": {"domain": ["IV", "HD"], "range": ["M-3.6,0H-1M1,0H3.6M1,0A1,1,0,1,1,-1,0A1,1,0,1,1,1,0", "M-3.6,0H-0.5M0.5,0H3.6M0,-0.9L0.9,0.7L-0.9,0.7Z"]},
             "legend": {"title": null, "orient": "none", "legendX": 289, "legendY": 83, "rowPadding": 7}}}},
        {"data": {"name": "f_ann"}, "mark": {"type": "rule", "color": "#111", "strokeWidth": 1, "strokeDash": [4, 3]},
         "encoding": {"x": {"field": "tc", "type": "quantitative", "scale": {"domain": [1.07, 10.85], "nice": false, "zero": false}, "axis": {"values": [2, 4, 6, 8, 10], "title": "t/s", "labelFont": "Liberation Serif", "labelFontSize": 20, "labelColor": "#222", "titleFont": "Liberation Serif", "titleFontSize": 19, "titleFontWeight": "normal", "titleColor": "#222", "titlePadding": 4, "labelPadding": 4}}}},
        {"data": {"name": "f_ann"}, "mark": {"type": "rule", "color": "#111", "strokeWidth": 1.3},
         "encoding": {
           "x": {"field": "ax1", "type": "quantitative", "scale": {"domain": [1.07, 10.85], "nice": false, "zero": false}, "axis": {"values": [2, 4, 6, 8, 10], "title": "t/s", "labelFont": "Liberation Serif", "labelFontSize": 20, "labelColor": "#222", "titleFont": "Liberation Serif", "titleFontSize": 19, "titleFontWeight": "normal", "titleColor": "#222", "titlePadding": 4, "labelPadding": 4}},
           "x2": {"field": "ax2"},
           "y": {"field": "ay", "type": "quantitative", "scale": {"domain": [-2, 2], "nice": false, "zero": false}, "axis": {"values": [-2, 0, 2], "format": "d", "title": "a/(m·s⁻²)", "labelFont": "Liberation Serif", "labelFontSize": 20, "labelColor": "#222", "titleFont": "Liberation Serif", "titleFontSize": 19, "titleFontWeight": "normal", "titleColor": "#222", "titlePadding": 2, "labelPadding": 3}}}},
        {"data": {"name": "f_ann"}, "mark": {"type": "point", "filled": true, "color": "#000", "opacity": 1, "shape": "M0,0L-1,-0.45L-1,0.45Z", "size": 900},
         "encoding": {
           "x": {"field": "ax2", "type": "quantitative", "scale": {"domain": [1.07, 10.85], "nice": false, "zero": false}, "axis": {"values": [2, 4, 6, 8, 10], "title": "t/s", "labelFont": "Liberation Serif", "labelFontSize": 20, "labelColor": "#222", "titleFont": "Liberation Serif", "titleFontSize": 19, "titleFontWeight": "normal", "titleColor": "#222", "titlePadding": 4, "labelPadding": 4}},
           "y": {"field": "ay", "type": "quantitative", "scale": {"domain": [-2, 2], "nice": false, "zero": false}, "axis": {"values": [-2, 0, 2], "format": "d", "title": "a/(m·s⁻²)", "labelFont": "Liberation Serif", "labelFontSize": 20, "labelColor": "#222", "titleFont": "Liberation Serif", "titleFontSize": 19, "titleFontWeight": "normal", "titleColor": "#222", "titlePadding": 2, "labelPadding": 3}}}},
        {"data": {"name": "f_ann"}, "mark": {"type": "text", "text": "T", "font": "Liberation Serif", "fontStyle": "italic", "fontSize": 23, "align": "left", "baseline": "alphabetic", "dy": -4, "color": "#111"},
         "encoding": {
           "x": {"field": "tx", "type": "quantitative", "scale": {"domain": [1.07, 10.85], "nice": false, "zero": false}, "axis": {"values": [2, 4, 6, 8, 10], "title": "t/s", "labelFont": "Liberation Serif", "labelFontSize": 20, "labelColor": "#222", "titleFont": "Liberation Serif", "titleFontSize": 19, "titleFontWeight": "normal", "titleColor": "#222", "titlePadding": 4, "labelPadding": 4}},
           "y": {"field": "ay", "type": "quantitative", "scale": {"domain": [-2, 2], "nice": false, "zero": false}, "axis": {"values": [-2, 0, 2], "format": "d", "title": "a/(m·s⁻²)", "labelFont": "Liberation Serif", "labelFontSize": 20, "labelColor": "#222", "titleFont": "Liberation Serif", "titleFontSize": 19, "titleFontWeight": "normal", "titleColor": "#222", "titlePadding": 2, "labelPadding": 3}}}},
        {"data": {"name": "f_ann"}, "mark": {"type": "text", "text": "cross", "font": "Liberation Serif", "fontSize": 19, "align": "left", "baseline": "alphabetic", "dx": 12, "dy": 3, "color": "#111"},
         "encoding": {
           "x": {"field": "tx", "type": "quantitative", "scale": {"domain": [1.07, 10.85], "nice": false, "zero": false}, "axis": {"values": [2, 4, 6, 8, 10], "title": "t/s", "labelFont": "Liberation Serif", "labelFontSize": 20, "labelColor": "#222", "titleFont": "Liberation Serif", "titleFontSize": 19, "titleFontWeight": "normal", "titleColor": "#222", "titlePadding": 4, "labelPadding": 4}},
           "y": {"field": "ay", "type": "quantitative", "scale": {"domain": [-2, 2], "nice": false, "zero": false}, "axis": {"values": [-2, 0, 2], "format": "d", "title": "a/(m·s⁻²)", "labelFont": "Liberation Serif", "labelFontSize": 20, "labelColor": "#222", "titleFont": "Liberation Serif", "titleFontSize": 19, "titleFontWeight": "normal", "titleColor": "#222", "titlePadding": 2, "labelPadding": 3}}}}
      ]
    }
  ],
  "spacing": {"row": 104, "column": 65},
  "bounds": "flush",
  "align": "each",
  "resolve": {"scale": {"shape": "independent"}, "legend": {"shape": "independent"}},
  "config": {
    "view": {"stroke": "#555", "strokeWidth": 1.3},
    "axis": {
      "domain": false, "grid": false, "tickColor": "#555", "tickWidth": 1.2, "tickSize": 6, "offset": -6,
      "labelFlush": false, "labelOverlap": false
    },
    "style": {
      "caption": {"font": "Liberation Sans", "fontSize": 16, "fontWeight": "bold", "fill": "#222"}
    },
    "legend": {
      "padding": 0, "symbolSize": 196, "symbolStrokeWidth": 1.3, "symbolStrokeColor": "#8f8f8f",
      "labelFont": "Liberation Serif", "labelFontSize": 20, "labelColor": "#222", "labelOffset": 19
    }
  }
}
